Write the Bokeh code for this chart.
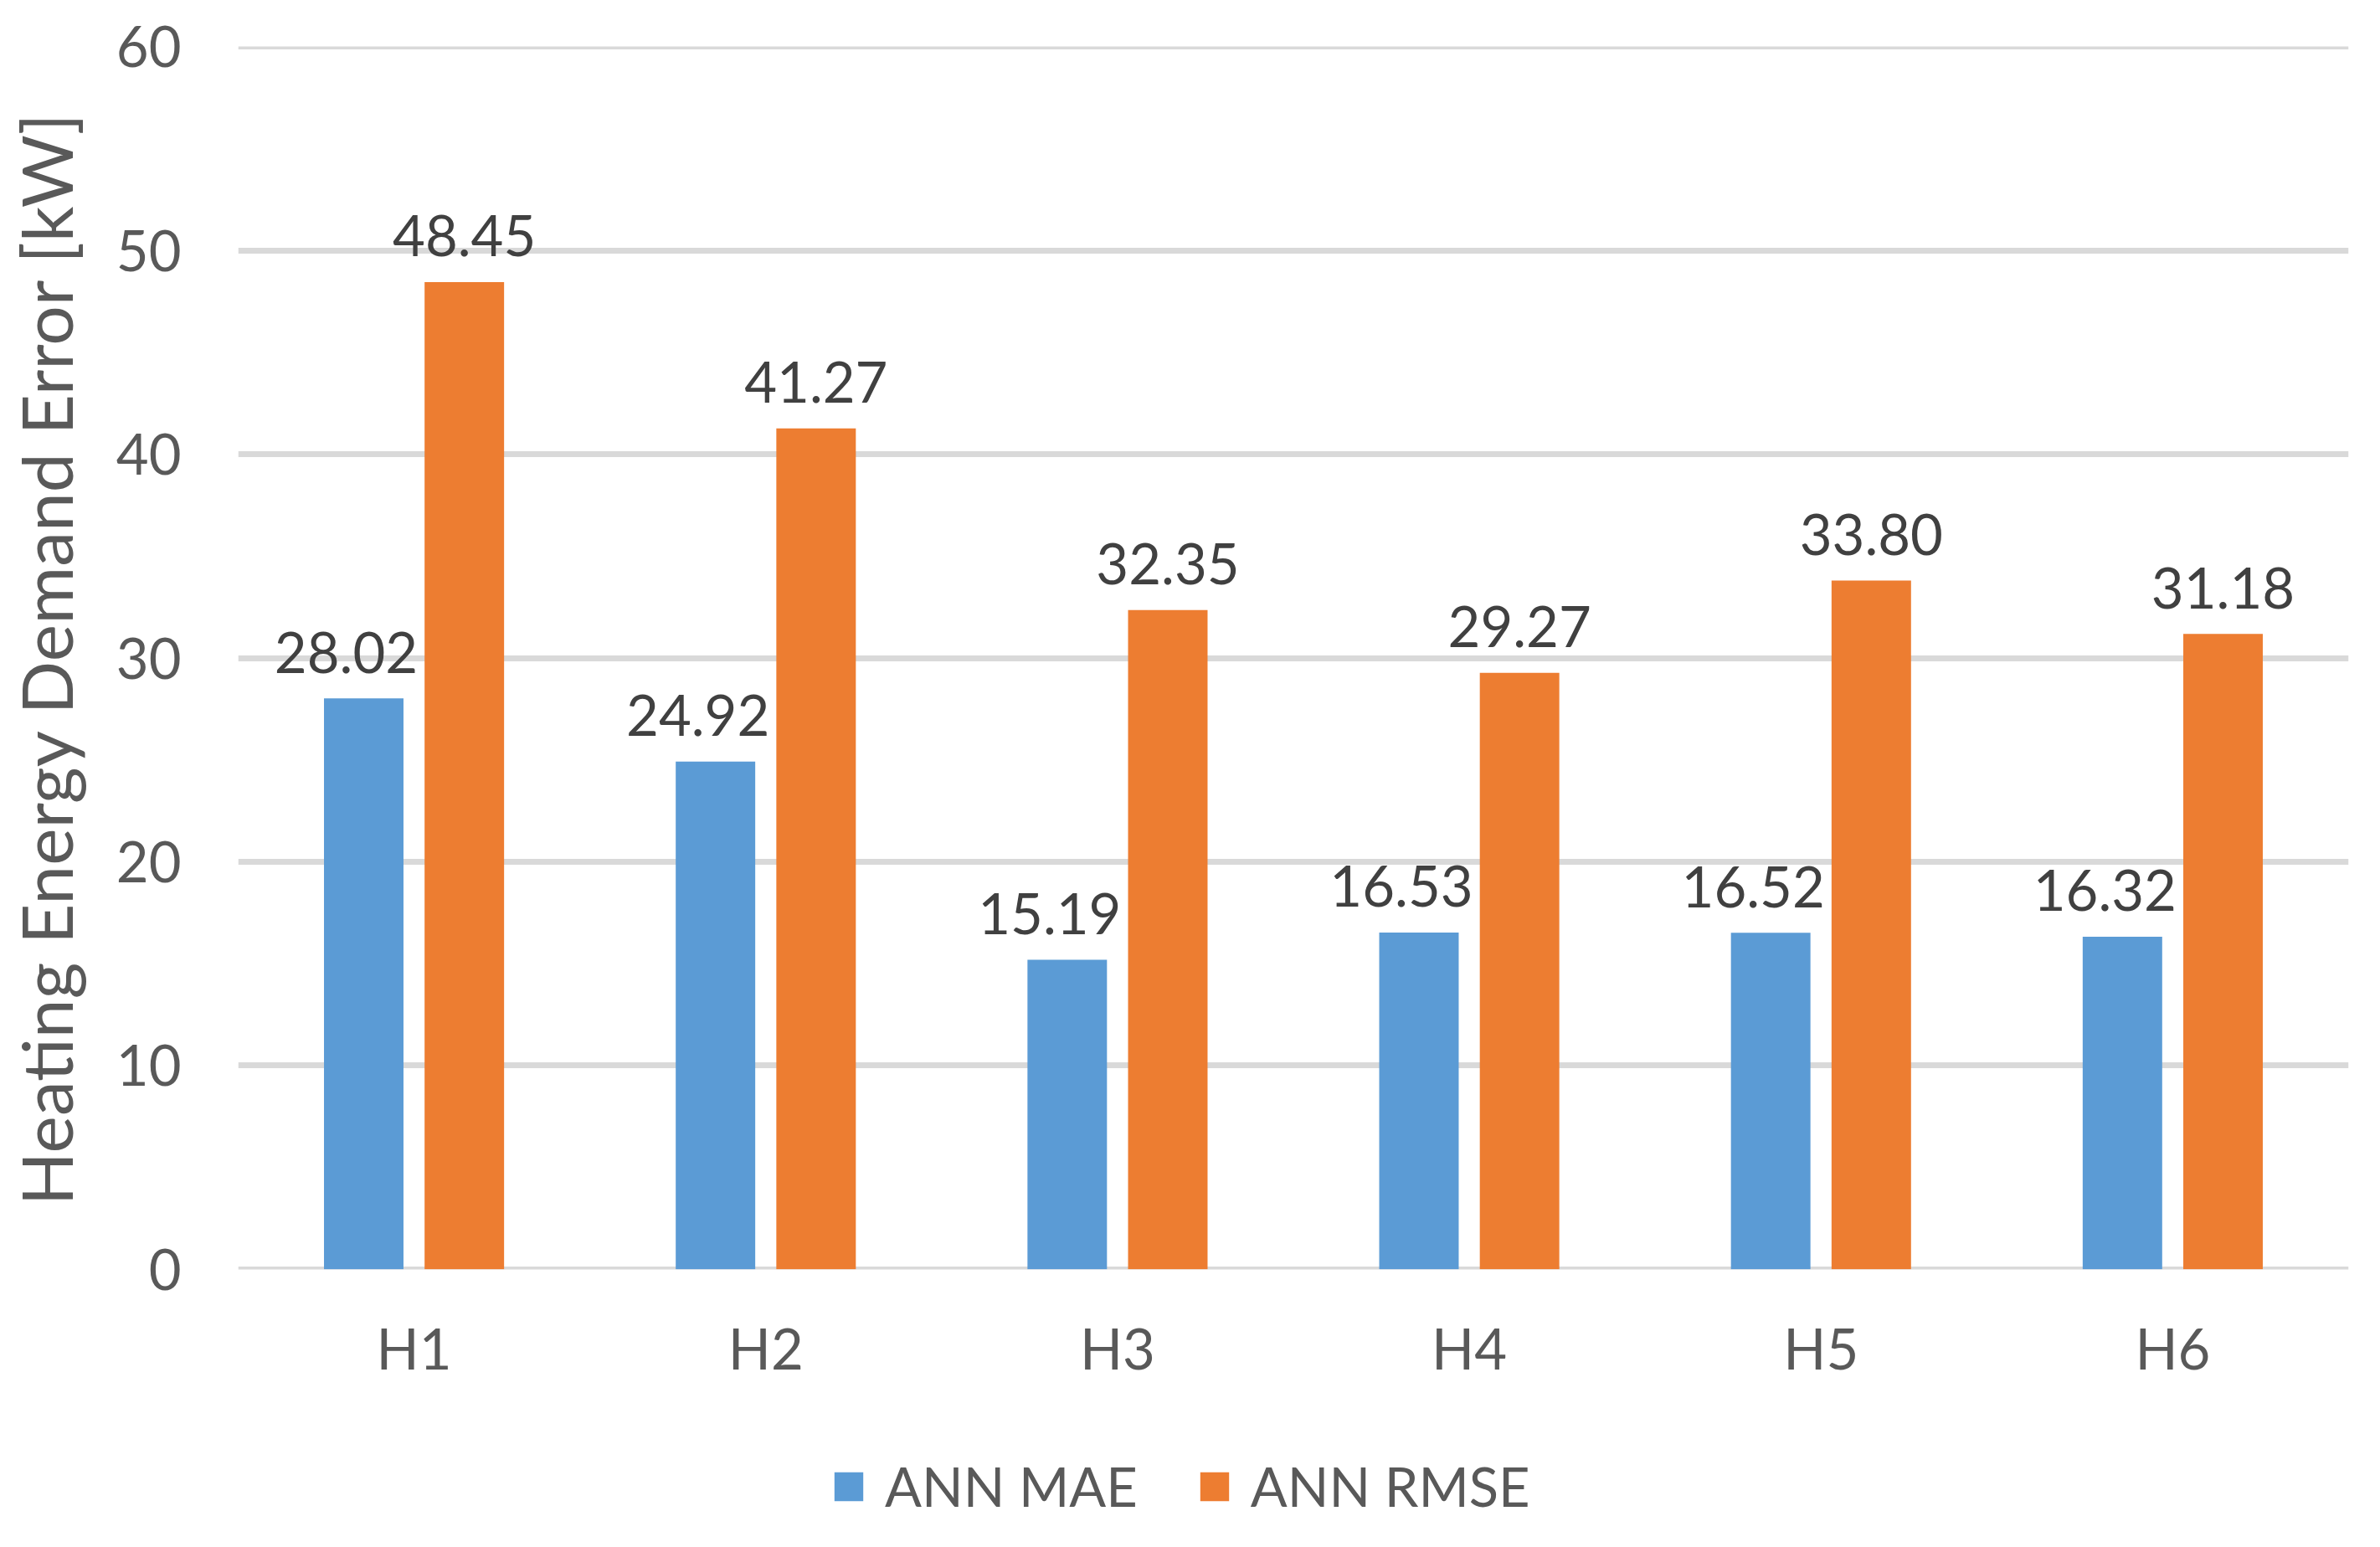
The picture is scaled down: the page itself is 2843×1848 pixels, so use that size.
from bokeh.plotting import figure
from bokeh.layouts import column
from bokeh.models import ColumnDataSource, FactorRange, FixedTicker, Legend, LegendItem, Range1d
from bokeh.transform import dodge
from bokeh.core.properties import value
from bokeh.embed import file_html
from bokeh.resources import INLINE

categories = ["H1", "H2", "H3", "H4", "H5", "H6"]
ann_mae = [28.02, 24.92, 15.19, 16.53, 16.52, 16.32]
ann_rmse = [48.45, 41.27, 32.35, 29.27, 33.80, 31.18]
series_names = ["ANN MAE", "ANN RMSE"]
y_ticks = [0, 10, 20, 30, 40, 50, 60]
y_title = "Heating Energy Demand Error [kW]"

BLUE = "#5B9BD5"
ORANGE = "#ED7D31"
FONT = "Lato"
W = 2827

src = ColumnDataSource(dict(
    cat=categories,
    mae=ann_mae,
    rmse=ann_rmse,
    mae_lbl=[f"{v:.2f}" for v in ann_mae],
    rmse_lbl=[f"{v:.2f}" for v in ann_rmse],
))

p = figure(
    x_range=FactorRange(*categories),
    y_range=Range1d(-0.01, 60.01),
    width=W, height=1712,
    output_backend="svg", toolbar_location=None,
    min_border_left=282, min_border_right=22,
    min_border_top=55, min_border_bottom=196,
)
p.outline_line_color = None
p.background_fill_color = "white"
p.border_fill_color = "white"

OFF = 0.143
BW = 0.226

r1 = p.vbar(x=dodge("cat", -OFF, range=p.x_range), top="mae", bottom=0, width=BW,
            source=src, fill_color=BLUE, line_color=None)
r2 = p.vbar(x=dodge("cat", OFF, range=p.x_range), top="rmse", bottom=0, width=BW,
            source=src, fill_color=ORANGE, line_color=None)

p.text(x=dodge("cat", -OFF, range=p.x_range), y="mae", text="mae_lbl", source=src,
       text_align="center", text_baseline="alphabetic", x_offset=-21, y_offset=-55,
       text_font=value(FONT), text_font_size="67px", text_color="#404040")
p.text(x=dodge("cat", OFF, range=p.x_range), y="rmse", text="rmse_lbl", source=src,
       text_align="center", text_baseline="alphabetic", x_offset=0, y_offset=-55,
       text_font=value(FONT), text_font_size="67px", text_color="#404040")

# grid
p.xgrid.grid_line_color = None
p.ygrid.grid_line_color = "#D9D9D9"
p.ygrid.grid_line_width = 7
p.ygrid.ticker = FixedTicker(ticks=y_ticks)

# y axis
ya = p.yaxis[0]
ya.ticker = FixedTicker(ticks=y_ticks)
ya.axis_line_color = None
ya.major_tick_line_color = None
ya.minor_tick_line_color = None
ya.major_tick_out = 0
ya.major_tick_in = 0
ya.major_label_standoff = 68
ya.major_label_text_font = FONT
ya.major_label_text_font_size = "67px"
ya.major_label_text_color = "#595959"
ya.axis_label = y_title
ya.axis_label_text_font = FONT
ya.axis_label_text_font_size = "84px"
ya.axis_label_text_font_style = "normal"
ya.axis_label_text_color = "#595959"
ya.axis_label_standoff = 31

# x axis
xa = p.xaxis[0]
xa.axis_line_color = None
xa.major_tick_line_color = None
xa.minor_tick_line_color = None
xa.major_tick_out = 0
xa.major_tick_in = 0
xa.major_label_standoff = 53
xa.major_label_text_font = FONT
xa.major_label_text_font_size = "67px"
xa.major_label_text_color = "#595959"

# legend strip below the chart (same series, y-range placed so the bars stay out of view)
lg = figure(
    width=W, height=120,
    x_range=FactorRange(*categories), y_range=Range1d(100, 101),
    x_axis_type=None, y_axis_type=None,
    output_backend="svg", toolbar_location=None,
    min_border=0,
)
lg.outline_line_color = None
lg.xgrid.visible = False
lg.ygrid.visible = False
lr1 = lg.vbar(x=dodge("cat", -OFF, range=lg.x_range), top="mae", bottom=0, width=BW,
              source=src, fill_color=BLUE, line_color=None)
lr2 = lg.vbar(x=dodge("cat", OFF, range=lg.x_range), top="rmse", bottom=0, width=BW,
              source=src, fill_color=ORANGE, line_color=None)

legend = Legend(
    items=[LegendItem(label=series_names[0], renderers=[lr1]),
           LegendItem(label=series_names[1], renderers=[lr2])],
    orientation="horizontal",
    location=(708, 18),
    glyph_width=43, glyph_height=43,
    label_standoff=22, spacing=70,
    padding=0, margin=0,
    border_line_color=None, background_fill_alpha=0,
    label_text_font=FONT, label_text_font_size="65px", label_text_color="#595959",
)
lg.add_layout(legend, "center")

open("out.html", "w").write(file_html(column(p, lg), INLINE))
